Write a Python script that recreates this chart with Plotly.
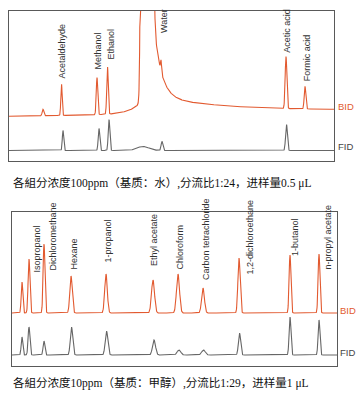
import numpy as np
import plotly.graph_objects as go

# ---------------- DATA ----------------
# Panel 1: 100 ppm in water (retention position, peak height, peak sigma)
p1_bid_rt = [43, 61.5, 97, 107.5, 161, 286, 305]
p1_bid_h = [6.5, 31.5, 37, 47.5, 11, 52, 22.5]
p1_bid_w = [0.8, 0.65, 0.75, 0.75, 0.5, 0.85, 0.8]
# water solvent peak on BID (centre, height, sigma) + leading rise + tail
p1_water = dict(rt=147.0, h=1.0e5, w=1.9)
p1_water_front = dict(end=140.7, amp=12.0, tau=10.9)
p1_water_tail = dict(start=153.0, a1=85.0, tau1=7.0, a2=17.6, tau2=79.0)
p1_bid_base = (44.7, 50.0)   # baseline level at start / end
p1_fid_rt = [63, 99, 109, 143, 162, 286.5]
p1_fid_h = [20, 22, 31, 4.0, 9, 26]
p1_fid_w = [0.7, 0.8, 0.8, 6.0, 0.9, 0.9]
p1_fid_base = 10.5
p1_labels = ["Acetaldehyde", "Methanol", "Ethanol", "Water", "Acetic acid", "Formic acid"]
p1_caption = "各組分浓度100ppm（基质：水）,分流比1:24，进样量0.5 μL"

# Panel 2: 10 ppm in methanol
p2_bid_rt = [22, 29, 44, 71, 106, 153, 178, 203, 239, 290, 319]
p2_bid_h = [31, 54, 69, 37, 39, 33, 39, 25, 55, 58, 59]
p2_bid_w = [0.8, 0.9, 0.9, 1.2, 1.3, 1.5, 1.5, 1.4, 1.1, 0.9, 0.9]
p2_bid_base = 53.0
p2_fid_rt = [22, 29, 44, 71.5, 106.5, 154, 179, 203.5, 239.5, 290, 319]
p2_fid_h = [18, 28, 14, 28, 24, 15, 5, 5, 22, 38, 35]
p2_fid_w = [0.8, 0.9, 0.9, 1.2, 1.3, 1.5, 1.8, 1.8, 1.1, 0.9, 0.9]
p2_fid_base = 11.0
p2_labels = ["Isopropanol", "Dichloromethane", "Hexane", "1-propanol", "Ethyl acetate",
             "Chloroform", "Carbon tetrachloride", "1,2-dichloroethane", "1-butanol",
             "n-propyl acetate"]
p2_caption = "各組分浓度10ppm（基质：甲醇）,分流比1:29，进样量1 μL"

# ---------------- BUILD SIGNALS ----------------
W, H = 356, 400


def peaks(t, rt, h, w):
    y = np.zeros_like(t)
    for r, a, s in zip(rt, h, w):
        y += a * np.exp(-0.5 * ((t - r) / s) ** 2)
    return y


t1 = np.arange(9, 334.01, 0.2)
bid1 = np.linspace(p1_bid_base[0], p1_bid_base[1], t1.size) + peaks(t1, p1_bid_rt, p1_bid_h, p1_bid_w)
bid1 += peaks(t1, [p1_water["rt"]], [p1_water["h"]], [p1_water["w"]])
fr = p1_water_front
bid1 += np.where(t1 <= fr["end"], fr["amp"] * np.exp((t1 - fr["end"]) / fr["tau"]), 0)
tl = p1_water_tail
d = np.clip(t1 - tl["start"], 0, None)
bid1 += np.where(t1 >= tl["start"], tl["a1"] * np.exp(-d / tl["tau1"])
                 + tl["a2"] * np.exp(-d / tl["tau2"]), 0)
bid1 = np.minimum(bid1, 400)
fid1 = p1_fid_base + peaks(t1, p1_fid_rt, p1_fid_h, p1_fid_w)

t2 = np.arange(12, 337.01, 0.2)
bid2 = p2_bid_base + peaks(t2, p2_bid_rt, p2_bid_h, p2_bid_w)
fid2 = p2_fid_base + peaks(t2, p2_fid_rt, p2_fid_h, p2_fid_w)

BID_C = "#E25A30"
FID_C = "#666666"

fig = go.Figure()
fig.add_trace(go.Scatter(x=t1, y=bid1, mode="lines", line=dict(color=BID_C, width=1.1),
                         xaxis="x", yaxis="y", hoverinfo="skip"))
fig.add_trace(go.Scatter(x=t1, y=fid1, mode="lines", line=dict(color=FID_C, width=1.1),
                         xaxis="x", yaxis="y", hoverinfo="skip"))
fig.add_trace(go.Scatter(x=t2, y=bid2, mode="lines", line=dict(color=BID_C, width=1.1),
                         xaxis="x2", yaxis="y2", hoverinfo="skip"))
fig.add_trace(go.Scatter(x=t2, y=fid2, mode="lines", line=dict(color=FID_C, width=1.1),
                         xaxis="x2", yaxis="y2", hoverinfo="skip"))


def px(x):
    return x / W


def py(y):
    return 1 - y / H


ax_common = dict(showline=True, mirror=True, linecolor="#595959", linewidth=1,
                 showgrid=False, zeroline=False, showticklabels=False, ticks="")

annotations = []
LBL_FONT = dict(family="Liberation Sans Narrow, Arial Narrow, Liberation Sans, sans-serif",
                size=9, color="#333333")

# panel 1 labels: (x position, bottom of text in pixel rows)
p1_lbl_pos = [(62, 81), (98, 72), (111, 62), (164, 35), (286.7, 55), (307.7, 83)]
for name, (lx, lb) in zip(p1_labels, p1_lbl_pos):
    annotations.append(dict(x=lx, y=161 - lb, xref="x", yref="y", text=name, showarrow=False,
                            textangle=-90, xanchor="center", yanchor="bottom", font=LBL_FONT))

p2_lbl_pos = [(36, 275), (52.5, 273), (73, 272), (107, 265), (154, 268), (179, 272),
              (206, 282), (249, 277), (295, 258), (327, 272)]
for name, (lx, lb) in zip(p2_labels, p2_lbl_pos):
    annotations.append(dict(x=lx, y=366 - lb, xref="x2", yref="y2", text=name, showarrow=False,
                            textangle=-90, xanchor="center", yanchor="bottom", font=LBL_FONT))

DET_FONT = "Liberation Sans, Arial, sans-serif"
for txt, x, y, c in [("BID", 336, 106, BID_C), ("FID", 336, 147, "#444444"),
                     ("BID", 338, 310, BID_C), ("FID", 338, 352, "#444444")]:
    annotations.append(dict(x=px(x), y=py(y), xref="paper", yref="paper", text=txt,
                            showarrow=False, xanchor="left", yanchor="middle",
                            font=dict(family=DET_FONT, size=9.5, color=c)))

CAP_FONT = dict(family="Liberation Serif, Noto Sans CJK SC, serif", size=11.5, color="#111111")
annotations.append(dict(x=px(11), y=py(183), xref="paper", yref="paper", text=p1_caption,
                        showarrow=False, xanchor="left", yanchor="middle", font=CAP_FONT))
annotations.append(dict(x=px(11), y=py(383), xref="paper", yref="paper", text=p2_caption,
                        showarrow=False, xanchor="left", yanchor="middle", font=CAP_FONT))

fig.update_layout(
    width=W, height=H, margin=dict(l=0, r=0, t=0, b=0),
    paper_bgcolor="white", plot_bgcolor="white", showlegend=False,
    xaxis=dict(domain=[px(9), px(334)], range=[9, 334], anchor="y", **ax_common),
    yaxis=dict(domain=[py(161), py(11)], range=[0, 150], anchor="x", **ax_common),
    xaxis2=dict(domain=[px(12), px(337)], range=[12, 337], anchor="y2", **ax_common),
    yaxis2=dict(domain=[py(366), py(212)], range=[0, 154], anchor="x2", **ax_common),
    annotations=annotations,
)

fig.write_html("out.html", config={"displayModeBar": False},
               post_script="document.body.style.margin='0';")
